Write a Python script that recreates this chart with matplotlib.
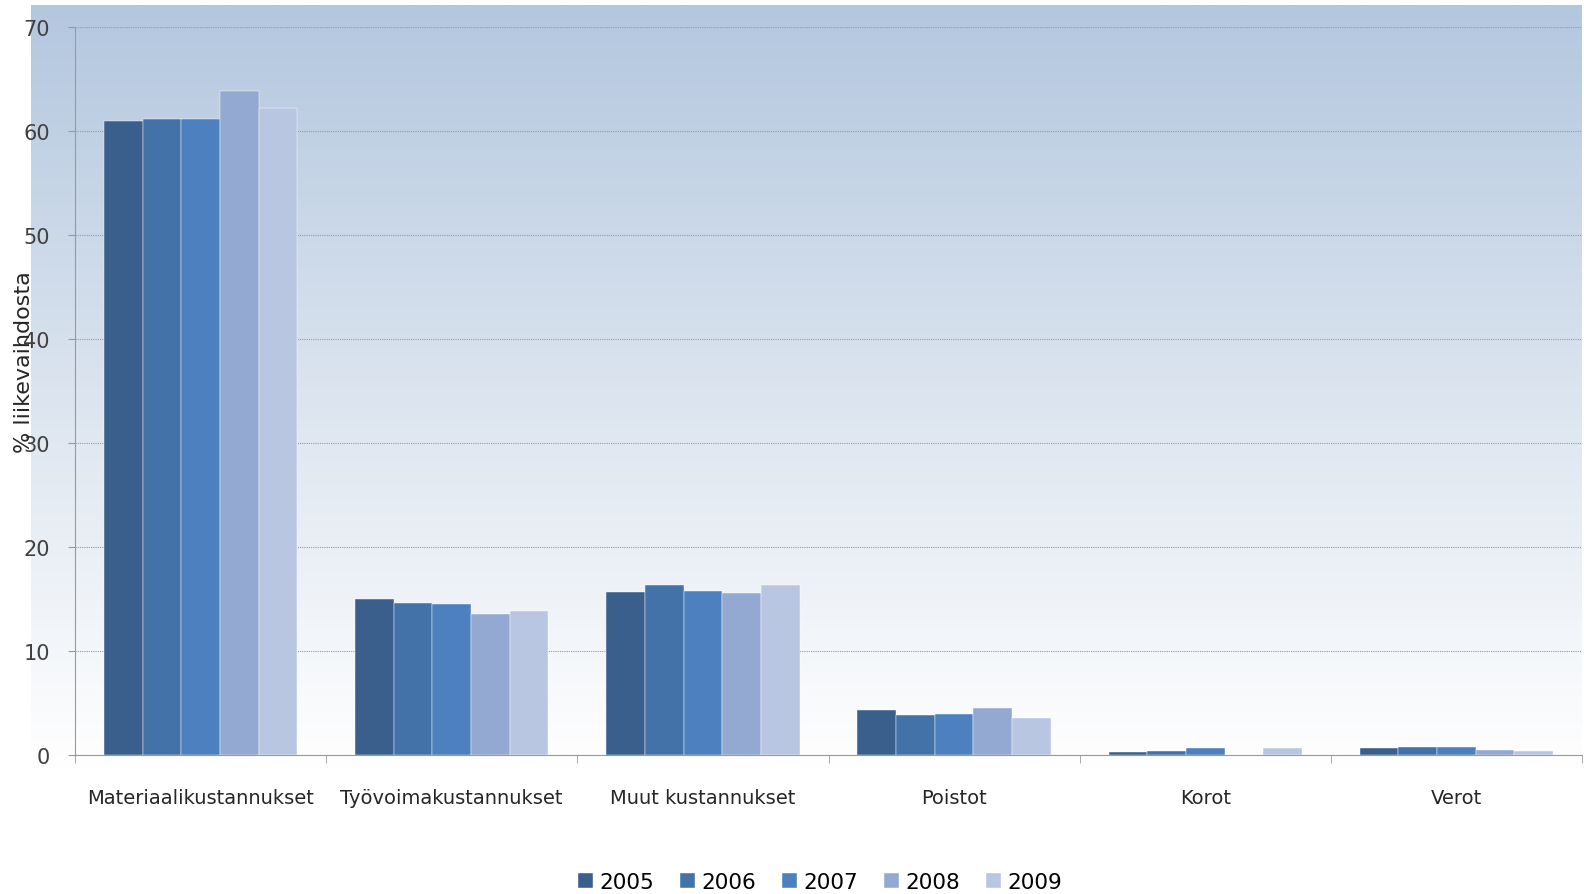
import numpy as np
import matplotlib
matplotlib.use("Agg")
import matplotlib.pyplot as plt
from matplotlib.colors import LinearSegmentedColormap

# Kustannuserät ja vuodet
kategoriat = ["Materiaalikustannukset", "Työvoimakustannukset", "Muut kustannukset",
              "Poistot", "Korot", "Verot"]
vuodet = ["2005", "2006", "2007", "2008", "2009"]

# % liikevaihdosta, luettu kuvasta
v2005 = [61.0, 15.0, 15.7, 4.3, 0.30, 0.65]
v2006 = [61.2, 14.6, 16.3, 3.8, 0.40, 0.78]
v2007 = [61.2, 14.5, 15.8, 3.9, 0.65, 0.78]
v2008 = [63.8, 13.6, 15.6, 4.5, 0.00, 0.52]
v2009 = [62.2, 13.8, 16.3, 3.6, 0.65, 0.39]
sarjat = [v2005, v2006, v2007, v2008, v2009]

varit = ["#3a5f8d", "#4272a8", "#4c80be", "#94a9d1", "#b9c6e1"]

W, H = 1584, 895
fig = plt.figure(figsize=(W / 100, H / 100), dpi=100)

# Liukuväritausta (vaaleansininen -> valkoinen)
bg = fig.add_axes([31 / W, (H - 770) / H, (1582 - 31) / W, (770 - 6) / H], zorder=0)
cmap = LinearSegmentedColormap.from_list("bg", ["#b3c7df", "#dbe4ef", "#ffffff"])
grad = np.linspace(0, 1, 256).reshape(-1, 1)
bg.imshow(grad, aspect="auto", cmap=cmap, extent=[0, 1, 0, 1], origin="upper")
bg.axis("off")

ax = fig.add_axes([75 / W, (H - 756) / H, (1582 - 75) / W, (756 - 28) / H], zorder=1)
ax.set_facecolor("none")

x = np.arange(len(kategoriat))
leveys = 0.154
for i, (arvot, vari) in enumerate(zip(sarjat, varit)):
    ax.bar(x + (i - 2) * leveys, arvot, width=leveys, color=vari,
           edgecolor="#ffffff", linewidth=0.3, label=vuodet[i], zorder=3)

ax.set_xlim(-0.5, len(kategoriat) - 0.5)
ax.set_ylim(0, 70)
ax.set_yticks(range(0, 71, 10))
ax.yaxis.grid(True, color="#999999", linestyle=(0, (1, 1)), linewidth=0.8, zorder=0)

ax.set_xticks(x)
ax.set_xticklabels(kategoriat, fontsize=14, color="#262626")
ax.tick_params(axis="x", length=0, pad=24)
ax.set_xticks(np.arange(-0.5, len(kategoriat), 1), minor=True)
ax.tick_params(axis="x", which="minor", length=6, color="#999999", direction="out")
ax.tick_params(axis="y", length=5, color="#999999", labelsize=15, labelcolor="#404040", pad=13)

for s in ["top", "right"]:
    ax.spines[s].set_visible(False)
for s in ["left", "bottom"]:
    ax.spines[s].set_color("#999999")
    ax.spines[s].set_linestyle((0, (1, 1)))

fig.text(24 / W, 1 - 362 / H, "% liikevaihdosta", rotation=90, fontsize=16,
         color="#262626", ha="center", va="center", zorder=5)

fig.legend(loc="center", bbox_to_anchor=(820 / W, 1 - 883 / H), ncol=5,
           frameon=False, fontsize=15.5, handlelength=0.7, handleheight=0.7,
           handletextpad=0.3, columnspacing=1.2)

fig.savefig("out.png", dpi=100)
